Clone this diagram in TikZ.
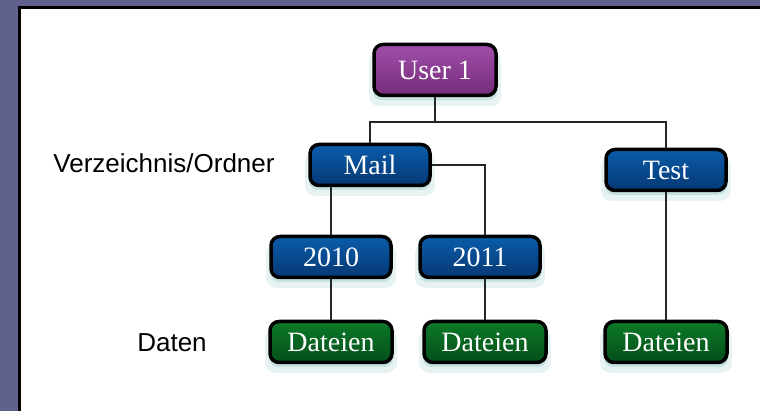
\documentclass[tikz,border=0pt]{standalone}
\usepackage{fontspec}
\setmainfont{Liberation Serif}
\setsansfont{Liberation Sans}
\usepackage{xcolor}
\usetikzlibrary{shadows,positioning}
\definecolor{frameBg}{RGB}{96,97,141}
\definecolor{userTop}{RGB}{160,78,170}
\definecolor{userBot}{RGB}{118,44,122}
\definecolor{dirTop}{RGB}{10,92,170}
\definecolor{dirBot}{RGB}{6,56,116}
\definecolor{fileTop}{RGB}{12,122,40}
\definecolor{fileBot}{RGB}{4,78,26}
\definecolor{glow}{RGB}{150,200,200}
\tikzset{box/.style={draw=black,line width=3.5pt,rounded corners=9pt,minimum width=120pt,minimum height=41pt,inner sep=0pt,text=white,font=\fontsize{28}{30}\selectfont,
  general shadow={fill=glow,shadow yshift=-8pt,shadow scale=1.08,opacity=0.22},
  general shadow={fill=glow,shadow yshift=-4pt,shadow scale=1.02,opacity=0.4}},
  userbox/.style={box,top color=userTop,bottom color=userBot,minimum width=122pt,minimum height=51pt},
  dirbox/.style={box,top color=dirTop,bottom color=dirBot},
  filebox/.style={box,top color=fileTop,bottom color=fileBot,minimum width=122pt},
  conn/.style={line width=1.8pt,draw=black!85},
  lbl/.style={font=\sffamily\fontsize{26}{28}\selectfont}}

\begin{document}
\begin{tikzpicture}[x=1pt,y=-1pt]
        \useasboundingbox (0,0) rectangle (760,411);
        \clip (0,0) rectangle (760,411);
        \fill[frameBg] (0,0) rectangle (760,411);
        \filldraw[fill=white,draw=black,line width=3pt] (19.5,7.5) rectangle (790,440);

        \node[userbox] (user) at (435,70) {User 1};
        \node[dirbox] (mail) at (370,165) {Mail};
        \node[dirbox] (test) at (666,170) {Test};
        \node[dirbox] (y2010) at (331,257) {2010};
        \node[dirbox] (y2011) at (480,257) {2011};
        \node[filebox] (d1) at (331,342) {Dateien};
        \node[filebox] (d2) at (485,342) {Dateien};
        \node[filebox] (d3) at (666,342) {Dateien};

        \node[lbl] (dirlabel) at (164,163) {Verzeichnis/Ordner};
        \node[lbl] (datalabel) at (172,343) {Daten};

        \coordinate (bus) at (435,122);
        \draw[conn] (user) -- (bus);
        \draw[conn] (mail) |- (bus) -| (test);
        \draw[conn] (mail.east) -| ([xshift=5pt]y2011.north);
        \draw[conn] (y2010.north) -- (y2010.north |- mail.south);
        \draw[conn] (y2010) -- (d1);
        \draw[conn] ([xshift=5pt]y2011.south) -- (d2);
        \draw[conn] (test) -- (d3);
    \end{tikzpicture}
\end{document}
